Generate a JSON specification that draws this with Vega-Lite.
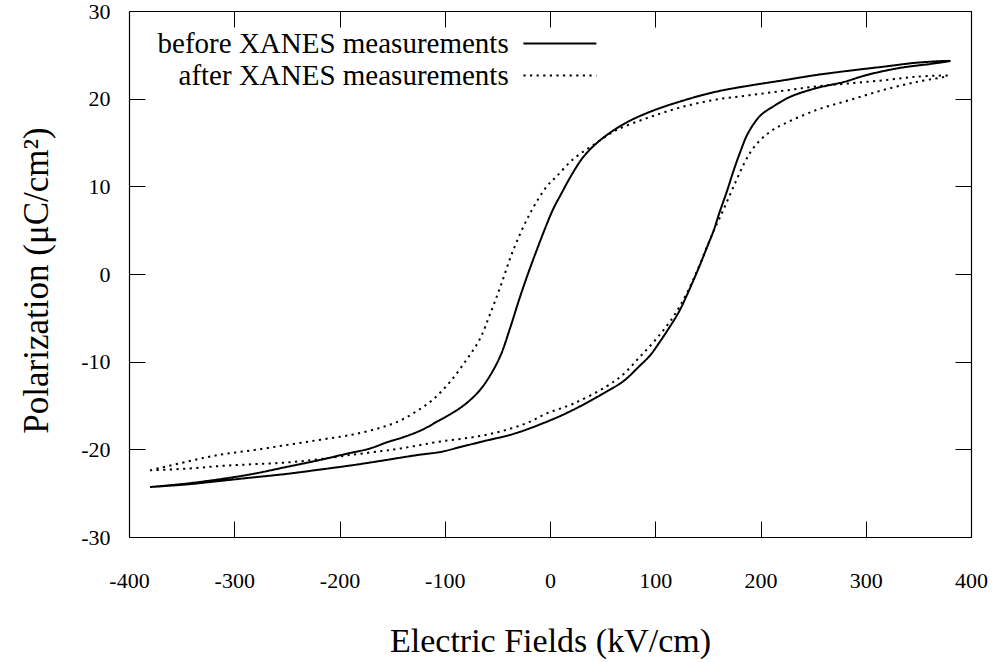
{
  "$schema": "https://vega.github.io/schema/vega-lite/v6.json",
  "width": 842,
  "height": 526,
  "autosize": "none",
  "padding": {"left": 129, "top": 11, "right": 24, "bottom": 125},
  "background": "white",
  "config": {
    "font": "Liberation Serif",
    "view": {"stroke": null},
    "axis": {
      "grid": false,
      "domainColor": "black",
      "domainWidth": 1.2,
      "tickColor": "black",
      "tickWidth": 1,
      "tickSize": -16,
      "labelColor": "black",
      "labelFont": "Liberation Serif",
      "labelFontSize": 22,
      "labelFlush": false,
      "labelOverlap": false,
      "labelExpr": "replace(datum.label, '−', '-')",
      "titleColor": "black",
      "titleFont": "Liberation Serif",
      "titleFontWeight": "normal"
    }
  },
  "data": {
    "values": [
      {"s": "before XANES measurements", "i": 0, "x": -380, "y": -24.3},
      {"s": "before XANES measurements", "i": 1, "x": -345, "y": -24.0},
      {"s": "before XANES measurements", "i": 2, "x": -313, "y": -23.6},
      {"s": "before XANES measurements", "i": 3, "x": -282, "y": -23.2},
      {"s": "before XANES measurements", "i": 4, "x": -250, "y": -22.8},
      {"s": "before XANES measurements", "i": 5, "x": -218, "y": -22.3},
      {"s": "before XANES measurements", "i": 6, "x": -187, "y": -21.8},
      {"s": "before XANES measurements", "i": 7, "x": -160, "y": -21.3},
      {"s": "before XANES measurements", "i": 8, "x": -142, "y": -20.95},
      {"s": "before XANES measurements", "i": 9, "x": -123, "y": -20.6},
      {"s": "before XANES measurements", "i": 10, "x": -104, "y": -20.3},
      {"s": "before XANES measurements", "i": 11, "x": -84, "y": -19.7},
      {"s": "before XANES measurements", "i": 12, "x": -64, "y": -19.1},
      {"s": "before XANES measurements", "i": 13, "x": -35, "y": -18.25},
      {"s": "before XANES measurements", "i": 14, "x": -3, "y": -16.85},
      {"s": "before XANES measurements", "i": 15, "x": 22, "y": -15.5},
      {"s": "before XANES measurements", "i": 16, "x": 54, "y": -13.4},
      {"s": "before XANES measurements", "i": 17, "x": 70, "y": -12.2},
      {"s": "before XANES measurements", "i": 18, "x": 85, "y": -10.5},
      {"s": "before XANES measurements", "i": 19, "x": 95, "y": -9.3},
      {"s": "before XANES measurements", "i": 20, "x": 104, "y": -7.8},
      {"s": "before XANES measurements", "i": 21, "x": 115, "y": -5.8},
      {"s": "before XANES measurements", "i": 22, "x": 123, "y": -4.2},
      {"s": "before XANES measurements", "i": 23, "x": 136, "y": -0.8},
      {"s": "before XANES measurements", "i": 24, "x": 142, "y": 0.9},
      {"s": "before XANES measurements", "i": 25, "x": 149, "y": 3.0},
      {"s": "before XANES measurements", "i": 26, "x": 155, "y": 4.8},
      {"s": "before XANES measurements", "i": 27, "x": 161, "y": 7.0},
      {"s": "before XANES measurements", "i": 28, "x": 168, "y": 9.4},
      {"s": "before XANES measurements", "i": 29, "x": 175, "y": 12.0},
      {"s": "before XANES measurements", "i": 30, "x": 181, "y": 14.0},
      {"s": "before XANES measurements", "i": 31, "x": 187, "y": 15.8},
      {"s": "before XANES measurements", "i": 32, "x": 194, "y": 17.2},
      {"s": "before XANES measurements", "i": 33, "x": 201, "y": 18.2},
      {"s": "before XANES measurements", "i": 34, "x": 212, "y": 19.1},
      {"s": "before XANES measurements", "i": 35, "x": 228, "y": 20.2},
      {"s": "before XANES measurements", "i": 36, "x": 253, "y": 21.2},
      {"s": "before XANES measurements", "i": 37, "x": 279, "y": 21.9},
      {"s": "before XANES measurements", "i": 38, "x": 301, "y": 22.7},
      {"s": "before XANES measurements", "i": 39, "x": 332, "y": 23.5},
      {"s": "before XANES measurements", "i": 40, "x": 364, "y": 24.0},
      {"s": "before XANES measurements", "i": 41, "x": 380, "y": 24.3},
      {"s": "before XANES measurements", "i": 42, "x": 348, "y": 24.1},
      {"s": "before XANES measurements", "i": 43, "x": 317, "y": 23.65},
      {"s": "before XANES measurements", "i": 44, "x": 285, "y": 23.2},
      {"s": "before XANES measurements", "i": 45, "x": 253, "y": 22.7},
      {"s": "before XANES measurements", "i": 46, "x": 222, "y": 22.1},
      {"s": "before XANES measurements", "i": 47, "x": 190, "y": 21.5},
      {"s": "before XANES measurements", "i": 48, "x": 158, "y": 20.8},
      {"s": "before XANES measurements", "i": 49, "x": 127, "y": 19.8},
      {"s": "before XANES measurements", "i": 50, "x": 95, "y": 18.5},
      {"s": "before XANES measurements", "i": 51, "x": 70, "y": 17.1},
      {"s": "before XANES measurements", "i": 52, "x": 47, "y": 15.2},
      {"s": "before XANES measurements", "i": 53, "x": 32, "y": 13.4},
      {"s": "before XANES measurements", "i": 54, "x": 21, "y": 11.4},
      {"s": "before XANES measurements", "i": 55, "x": 10, "y": 9.0},
      {"s": "before XANES measurements", "i": 56, "x": 3, "y": 7.4},
      {"s": "before XANES measurements", "i": 57, "x": -5, "y": 5.1},
      {"s": "before XANES measurements", "i": 58, "x": -13, "y": 2.6},
      {"s": "before XANES measurements", "i": 59, "x": -21, "y": 0.0},
      {"s": "before XANES measurements", "i": 60, "x": -29, "y": -2.8},
      {"s": "before XANES measurements", "i": 61, "x": -38, "y": -6.2},
      {"s": "before XANES measurements", "i": 62, "x": -47, "y": -9.3},
      {"s": "before XANES measurements", "i": 63, "x": -57, "y": -11.6},
      {"s": "before XANES measurements", "i": 64, "x": -67, "y": -13.3},
      {"s": "before XANES measurements", "i": 65, "x": -80, "y": -14.8},
      {"s": "before XANES measurements", "i": 66, "x": -92, "y": -15.8},
      {"s": "before XANES measurements", "i": 67, "x": -104.5, "y": -16.65},
      {"s": "before XANES measurements", "i": 68, "x": -122, "y": -17.8},
      {"s": "before XANES measurements", "i": 69, "x": -139, "y": -18.6},
      {"s": "before XANES measurements", "i": 70, "x": -155, "y": -19.2},
      {"s": "before XANES measurements", "i": 71, "x": -171, "y": -19.9},
      {"s": "before XANES measurements", "i": 72, "x": -193, "y": -20.5},
      {"s": "before XANES measurements", "i": 73, "x": -218, "y": -21.2},
      {"s": "before XANES measurements", "i": 74, "x": -250, "y": -22.0},
      {"s": "before XANES measurements", "i": 75, "x": -282, "y": -22.8},
      {"s": "before XANES measurements", "i": 76, "x": -313, "y": -23.4},
      {"s": "before XANES measurements", "i": 77, "x": -345, "y": -23.9},
      {"s": "before XANES measurements", "i": 78, "x": -380, "y": -24.3},
      {"s": "after XANES measurements", "i": 0, "x": -380, "y": -22.4},
      {"s": "after XANES measurements", "i": 1, "x": -345, "y": -22.2},
      {"s": "after XANES measurements", "i": 2, "x": -313, "y": -21.9},
      {"s": "after XANES measurements", "i": 3, "x": -282, "y": -21.7},
      {"s": "after XANES measurements", "i": 4, "x": -250, "y": -21.5},
      {"s": "after XANES measurements", "i": 5, "x": -218, "y": -21.1},
      {"s": "after XANES measurements", "i": 6, "x": -187, "y": -20.6},
      {"s": "after XANES measurements", "i": 7, "x": -160, "y": -20.2},
      {"s": "after XANES measurements", "i": 8, "x": -142, "y": -19.9},
      {"s": "after XANES measurements", "i": 9, "x": -123, "y": -19.5},
      {"s": "after XANES measurements", "i": 10, "x": -104, "y": -19.1},
      {"s": "after XANES measurements", "i": 11, "x": -84, "y": -18.8},
      {"s": "after XANES measurements", "i": 12, "x": -63, "y": -18.4},
      {"s": "after XANES measurements", "i": 13, "x": -42, "y": -17.8},
      {"s": "after XANES measurements", "i": 14, "x": -22, "y": -17.0},
      {"s": "after XANES measurements", "i": 15, "x": -3, "y": -15.9},
      {"s": "after XANES measurements", "i": 16, "x": 22, "y": -14.8},
      {"s": "after XANES measurements", "i": 17, "x": 54, "y": -12.8},
      {"s": "after XANES measurements", "i": 18, "x": 70, "y": -11.4},
      {"s": "after XANES measurements", "i": 19, "x": 85, "y": -9.5},
      {"s": "after XANES measurements", "i": 20, "x": 101, "y": -7.4},
      {"s": "after XANES measurements", "i": 21, "x": 117, "y": -4.9},
      {"s": "after XANES measurements", "i": 22, "x": 130, "y": -2.2},
      {"s": "after XANES measurements", "i": 23, "x": 142, "y": 1.0},
      {"s": "after XANES measurements", "i": 24, "x": 154, "y": 4.5},
      {"s": "after XANES measurements", "i": 25, "x": 165, "y": 7.4},
      {"s": "after XANES measurements", "i": 26, "x": 176, "y": 10.4},
      {"s": "after XANES measurements", "i": 27, "x": 184, "y": 12.5},
      {"s": "after XANES measurements", "i": 28, "x": 191, "y": 14.0},
      {"s": "after XANES measurements", "i": 29, "x": 200, "y": 15.3},
      {"s": "after XANES measurements", "i": 30, "x": 210, "y": 16.3},
      {"s": "after XANES measurements", "i": 31, "x": 222, "y": 17.1},
      {"s": "after XANES measurements", "i": 32, "x": 253, "y": 18.7},
      {"s": "after XANES measurements", "i": 33, "x": 285, "y": 19.85},
      {"s": "after XANES measurements", "i": 34, "x": 317, "y": 21.0},
      {"s": "after XANES measurements", "i": 35, "x": 348, "y": 21.9},
      {"s": "after XANES measurements", "i": 36, "x": 378, "y": 22.6},
      {"s": "after XANES measurements", "i": 37, "x": 348, "y": 22.5},
      {"s": "after XANES measurements", "i": 38, "x": 317, "y": 22.1},
      {"s": "after XANES measurements", "i": 39, "x": 285, "y": 21.75},
      {"s": "after XANES measurements", "i": 40, "x": 253, "y": 21.4},
      {"s": "after XANES measurements", "i": 41, "x": 222, "y": 20.9},
      {"s": "after XANES measurements", "i": 42, "x": 190, "y": 20.4},
      {"s": "after XANES measurements", "i": 43, "x": 158, "y": 19.9},
      {"s": "after XANES measurements", "i": 44, "x": 127, "y": 19.1},
      {"s": "after XANES measurements", "i": 45, "x": 95, "y": 17.9},
      {"s": "after XANES measurements", "i": 46, "x": 63, "y": 16.4},
      {"s": "after XANES measurements", "i": 47, "x": 41, "y": 14.7},
      {"s": "after XANES measurements", "i": 48, "x": 22, "y": 13.1},
      {"s": "after XANES measurements", "i": 49, "x": 6, "y": 11.1},
      {"s": "after XANES measurements", "i": 50, "x": -3, "y": 10.0},
      {"s": "after XANES measurements", "i": 51, "x": -19, "y": 6.9},
      {"s": "after XANES measurements", "i": 52, "x": -35, "y": 2.7},
      {"s": "after XANES measurements", "i": 53, "x": -47, "y": -1.4},
      {"s": "after XANES measurements", "i": 54, "x": -57, "y": -4.6},
      {"s": "after XANES measurements", "i": 55, "x": -67, "y": -7.5},
      {"s": "after XANES measurements", "i": 56, "x": -80, "y": -9.9},
      {"s": "after XANES measurements", "i": 57, "x": -95, "y": -12.3},
      {"s": "after XANES measurements", "i": 58, "x": -111, "y": -14.3},
      {"s": "after XANES measurements", "i": 59, "x": -126, "y": -15.6},
      {"s": "after XANES measurements", "i": 60, "x": -142, "y": -16.7},
      {"s": "after XANES measurements", "i": 61, "x": -160, "y": -17.5},
      {"s": "after XANES measurements", "i": 62, "x": -187, "y": -18.3},
      {"s": "after XANES measurements", "i": 63, "x": -218, "y": -18.9},
      {"s": "after XANES measurements", "i": 64, "x": -250, "y": -19.5},
      {"s": "after XANES measurements", "i": 65, "x": -282, "y": -20.1},
      {"s": "after XANES measurements", "i": 66, "x": -313, "y": -20.6},
      {"s": "after XANES measurements", "i": 67, "x": -345, "y": -21.4},
      {"s": "after XANES measurements", "i": 68, "x": -380, "y": -22.4}
    ]
  },
  "layer": [
    {
      "mark": {"type": "line", "color": "black", "strokeWidth": 2, "strokeCap": "butt", "strokeJoin": "round", "interpolate": "catmull-rom"},
      "encoding": {
        "x": {
          "field": "x", "type": "quantitative",
          "scale": {"domain": [-400, 400], "nice": false, "zero": false},
          "axis": {
            "orient": "bottom",
            "values": [-400, -300, -200, -100, 0, 100, 200, 300, 400],
            "labelBaseline": "alphabetic",
            "labelPadding": 66,
            "title": "Electric Fields (kV/cm)",
            "titleFontSize": 34,
            "titleBaseline": "alphabetic",
            "titleY": 114
          }
        },
        "y": {
          "field": "y", "type": "quantitative",
          "scale": {"domain": [-30, 30], "nice": false, "zero": false},
          "axis": {
            "orient": "left",
            "values": [-30, -20, -10, 0, 10, 20, 30],
            "labelPadding": 35,
            "title": "Polarization (μC/cm²)",
            "titleFontSize": 35,
            "titleBaseline": "alphabetic",
            "titleAngle": -90,
            "titleAlign": "center",
            "titleX": -82,
            "titleY": 269
          }
        },
        "order": {"field": "i", "type": "quantitative"},
        "strokeDash": {
          "field": "s", "type": "nominal",
          "scale": {
            "domain": ["before XANES measurements", "after XANES measurements"],
            "range": [[1, 0], [2.2, 4.4]]
          },
          "legend": {
            "orient": "none",
            "legendX": 416.4,
            "legendY": 18,
            "title": null,
            "padding": 0,
            "rowPadding": 2,
            "symbolType": "M-4,0H4",
            "symbolSize": 333,
            "symbolStrokeWidth": 2,
            "symbolStrokeColor": "black",
            "labelAlign": "right",
            "labelOffset": -65.7,
            "labelFontSize": 29,
            "labelFont": "Liberation Serif",
            "labelColor": "black",
            "labelLimit": 600
          }
        }
      }
    },
    {
      "mark": {"type": "line", "opacity": 0},
      "encoding": {
        "x": {
          "field": "x", "type": "quantitative",
          "scale": {"domain": [-400, 400], "nice": false, "zero": false},
          "axis": {"orient": "top", "values": [-400, -300, -200, -100, 0, 100, 200, 300, 400], "labels": false, "title": null}
        },
        "y": {
          "field": "y", "type": "quantitative",
          "scale": {"domain": [-30, 30], "nice": false, "zero": false},
          "axis": {"orient": "right", "values": [-30, -20, -10, 0, 10, 20, 30], "labels": false, "title": null}
        },
        "detail": {"field": "s", "type": "nominal"},
        "order": {"field": "i", "type": "quantitative"}
      }
    }
  ],
  "resolve": {"axis": {"x": "independent", "y": "independent"}}
}
